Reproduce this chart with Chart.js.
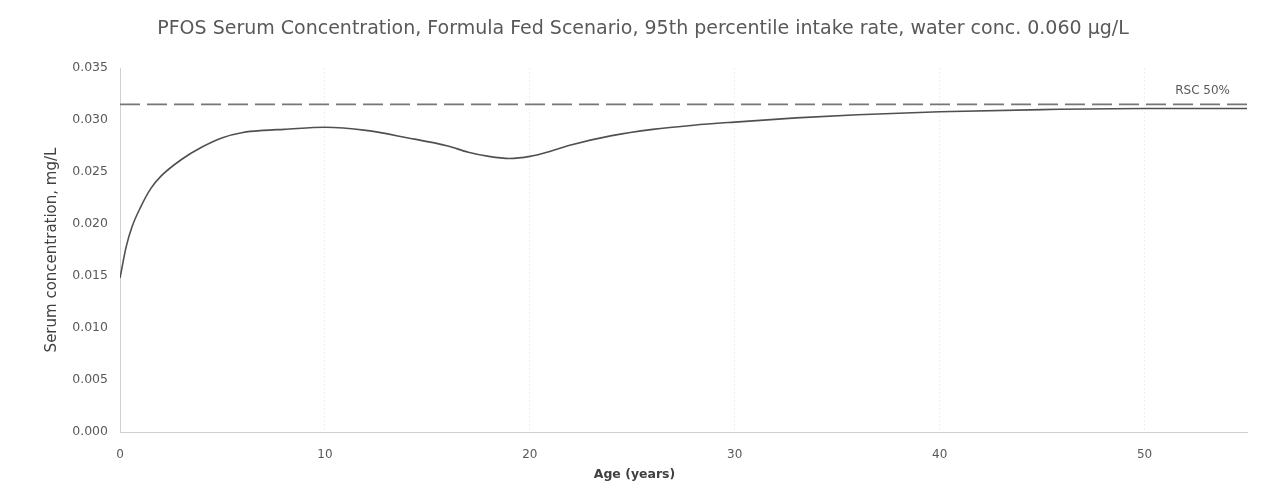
<!DOCTYPE html>
<html>
<head>
<meta charset="utf-8">
<script src="https://cdn.jsdelivr.net/npm/chart.js@4/dist/chart.umd.min.js"></script>
<style>
html,body{margin:0;padding:0;background:#fff;}
#wrap{width:1265px;height:496px;position:relative;}
</style>
</head>
<body>
<div id="wrap"><canvas id="c" width="1265" height="496"></canvas></div>
<script>
const titleText = "PFOS Serum Concentration, Formula Fed Scenario, 95th percentile intake rate, water conc. 0.060 \u00b5g/L";
const xTitle = "Age (years)";
const yTitle = "Serum concentration, mg/L";
const ages = [0, 0.3, 0.6, 1, 1.5, 2, 3, 4, 5, 6, 7, 8, 10, 12, 14, 16, 17, 18, 19, 20, 21, 22, 24, 26, 28, 30, 33, 36, 40, 45, 50, 55];
const serum = [0.0148, 0.0178, 0.0198, 0.0216, 0.0234, 0.0246, 0.0262, 0.0274, 0.0283, 0.0288, 0.0290, 0.0291, 0.0293, 0.0290, 0.0283, 0.0275, 0.0269, 0.0265, 0.0263, 0.0265, 0.0270, 0.0276, 0.0285, 0.0291, 0.0295, 0.0298, 0.0302, 0.0305, 0.0308, 0.0310, 0.0311, 0.0311];
const rscAges = [0, 55];
const rscValues = [0.0315, 0.0315];
const rscLabel = "RSC 50%";
const xTicks = [0, 10, 20, 30, 40, 50];
const yTicks = [0.000, 0.005, 0.010, 0.015, 0.020, 0.025, 0.030, 0.035];

const serumData = ages.map((a, i) => ({x: a, y: serum[i]}));
const rscData = rscAges.map((a, i) => ({x: a, y: rscValues[i]}));

const FONT = '"DejaVu Sans"';

const labelPlugin = {
  id: 'rscLabel',
  afterDatasetsDraw(chart) {
    const {ctx, scales} = chart;
    const x = scales.x.getPixelForValue(rscAges[rscAges.length - 1]);
    const y = scales.y.getPixelForValue(rscValues[rscValues.length - 1]);
    ctx.save();
    ctx.font = '12px ' + FONT;
    ctx.fillStyle = '#595959';
    ctx.textAlign = 'right';
    ctx.textBaseline = 'middle';
    ctx.fillText(rscLabel, x - 17, y - 14);
    ctx.restore();
  }
};

const xTitlePlugin = {
  id: 'xTitle',
  afterDraw(chart) {
    const {ctx} = chart;
    ctx.save();
    ctx.font = 'bold 12.5px ' + FONT;
    ctx.fillStyle = '#404040';
    ctx.textAlign = 'center';
    ctx.textBaseline = 'middle';
    ctx.fillText(xTitle, chart.width / 2 + 2, 475);
    ctx.restore();
  }
};

new Chart(document.getElementById('c'), {
  type: 'line',
  data: {
    datasets: [
      {
        label: 'Serum',
        data: serumData,
        borderColor: '#505050',
        borderWidth: 1.6,
        pointRadius: 0,
        tension: 0.4,
        cubicInterpolationMode: 'monotone',
        fill: false
      },
      {
        label: rscLabel,
        data: rscData,
        borderColor: '#767676',
        borderWidth: 1.6,
        borderDash: [20, 7],
        pointRadius: 0,
        fill: false
      }
    ]
  },
  options: {
    responsive: false,
    animation: false,
    layout: {padding: {left: 39, right: 18, top: 0, bottom: 11}},
    plugins: {
      legend: {display: false},
      tooltip: {enabled: false},
      title: {
        display: true,
        text: titleText,
        color: '#595959',
        font: {family: FONT, size: 19, weight: 'normal'},
        padding: {top: 17.6, bottom: 27.6}
      }
    },
    scales: {
      x: {
        type: 'linear',
        min: 0,
        max: 55,
        afterBuildTicks(s) { s.ticks = xTicks.map(v => ({value: v})); },
        afterFit(s) { s.height = 53; },
        grid: {display: true, color: '#efefef', drawTicks: false, lineWidth: 1},
        border: {display: true, color: '#d0d0d0', dash: [2, 2]},
        ticks: {color: '#595959', font: {family: FONT, size: 12}, padding: 16, maxRotation: 0},
        title: {display: false}
      },
      y: {
        min: 0,
        max: 0.035,
        afterBuildTicks(s) { s.ticks = yTicks.map(v => ({value: v})); },
        afterFit(s) { s.width = 81; },
        grid: {display: false, drawTicks: false},
        border: {display: true, color: '#d0d0d0', dash: [2, 2]},
        ticks: {color: '#595959', font: {family: FONT, size: 12.5}, padding: 12, callback: v => v.toFixed(3)},
        title: {display: true, text: yTitle, color: '#404040', font: {family: FONT, size: 15}, padding: {top: 4, bottom: 4}}
      }
    }
  },
  plugins: [labelPlugin, xTitlePlugin]
});
</script>
</body>
</html>
